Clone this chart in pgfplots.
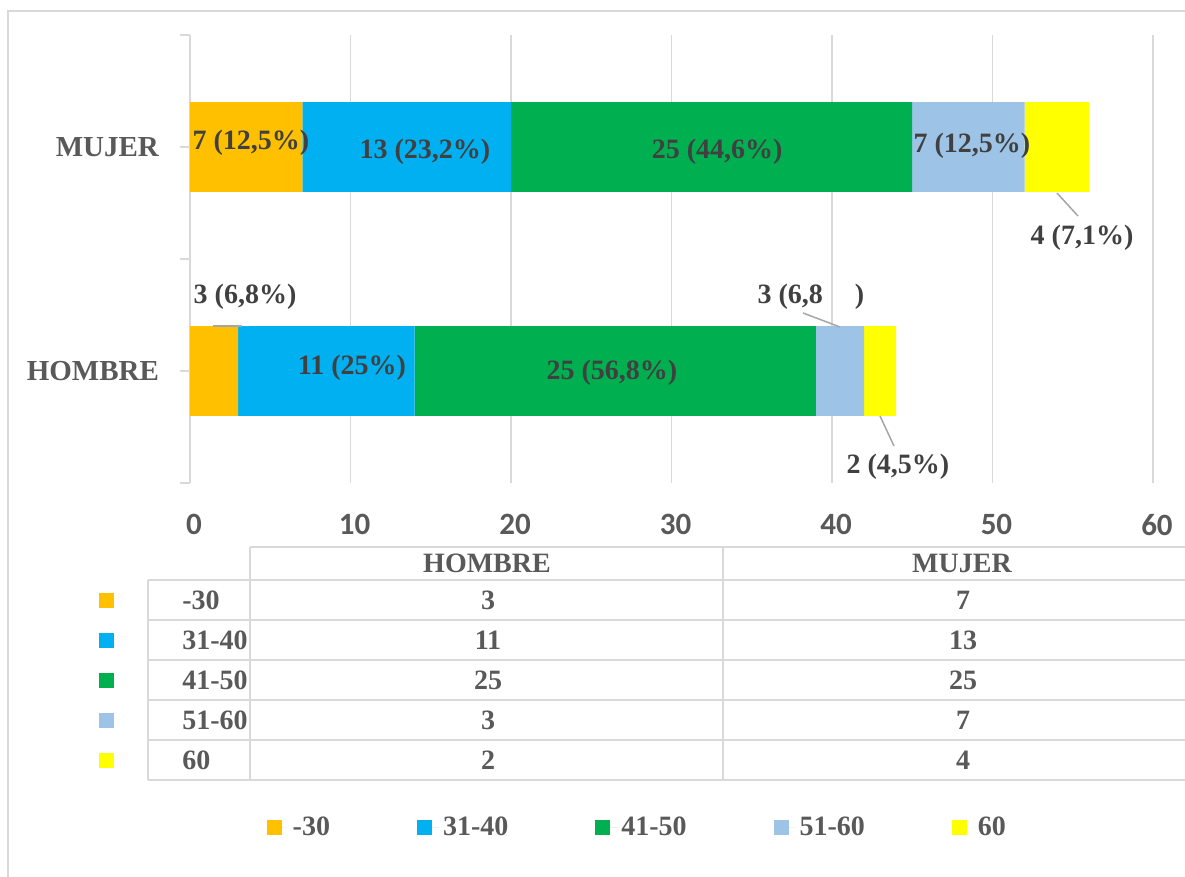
\documentclass[border=0pt]{standalone}
\usepackage{fontspec}
\setmainfont{Liberation Serif}
\newfontfamily\carlito{Carlito}
\usepackage{pgfplots}
\usepackage{pgfplotstable}
\pgfplotsset{compat=1.18}
\definecolor{c30}{HTML}{FFC000}
\definecolor{c40}{HTML}{00B0F0}
\definecolor{c50}{HTML}{00B050}
\definecolor{c60}{HTML}{9DC3E6}
\definecolor{c61}{HTML}{FFFF00}
\definecolor{gridc}{HTML}{D9D9D9}
\definecolor{txt}{HTML}{595959}
\definecolor{labc}{HTML}{404040}
\definecolor{leadc}{HTML}{A6A6A6}

% bar values: y=0 HOMBRE, y=1 MUJER
\pgfplotstableread{
x y
3 0
7 1
}\tA
\pgfplotstableread{
x y
11 0
13 1
}\tB
\pgfplotstableread{
x y
25 0
25 1
}\tC
\pgfplotstableread{
x y
3 0
7 1
}\tD
\pgfplotstableread{
x y
2 0
4 1
}\tE
% data labels at their placed positions
\pgfplotstableread[col sep=semicolon]{
x;y;lab
3.80;1.018;7 (12,5\%)
14.64;0.978;13 (23,2\%)
32.84;0.978;25 (44,6\%)
48.72;1.004;7 (12,5\%)
55.58;0.594;4 (7,1\%)
3.43;0.330;3 (6,8\%)
10.09;0.013;11 (25\%)
26.29;-0.009;25 (56,8\%)
38.69;0.330;3 (6,8\hbox to 16pt{})
44.11;-0.429;2 (4,5\%)
}\tL

\newcommand\tabfont{\bfseries\fontsize{14}{14}\selectfont}
\pgfplotsset{
  lbl/.style={draw=none, fill=#1,
    legend image code/.code={\fill[##1] (0pt,-3.75pt) rectangle (7.5pt,3.75pt);
      \path (0pt,0pt) -- (11pt,0pt);}
  },
  frame/.style={at={(95pt,-241.5pt)}, anchor=south west,
    scale only axis, width=481.5pt, height=224pt,
    xmin=0, xmax=60, ymin=-0.5, ymax=1.5}
}

\begin{document}
\begin{tikzpicture}
\begin{axis}[
  frame,
  xbar stacked, bar width=0.4,
  xtick={0,10,...,60},
  xmajorgrids, major grid style={draw=gridc, line width=0.75pt},
  ytick={-0.5,0.5,1.5}, yticklabels={},
  axis line style={draw=none},
  tick align=outside, major tick length=5pt,
  xtick style={draw=none}, ytick style={draw=gridc, line width=0.75pt},
  ytick pos=left, xtick pos=bottom,
  extra y ticks={0,1}, extra y tick labels={HOMBRE,MUJER},
  extra y tick style={tick style={draw=none},
    tick label style={font=\bfseries\fontsize{14.5}{14.5}\selectfont, text=txt, xshift=-7pt}},
  xticklabel style={font=\carlito\bfseries\fontsize{15.5}{15.5}\selectfont, text=txt, yshift=-7pt, xshift=2pt},
  /pgf/number format/assume math mode=true,
  legend style={at={(0.073,-0.770)}, anchor=west, draw=none, fill=none,
    font=\tabfont, text=txt, legend columns=5,
    /tikz/every even column/.append style={column sep=41.5pt}},
  legend cell align=left,
]
\addplot[lbl=c30] table[x=x,y=y]{\tA};
\addlegendentry{-30}
\addplot[lbl=c40] table[x=x,y=y]{\tB};
\addlegendentry{31-40}
\addplot[lbl=c50] table[x=x,y=y]{\tC};
\addlegendentry{41-50}
\addplot[lbl=c60] table[x=x,y=y]{\tD};
\addlegendentry{51-60}
\addplot[lbl=c61] table[x=x,y=y]{\tE};
\addlegendentry{60}
\end{axis}

\begin{axis}[frame, hide axis]
\addplot[draw=none, mark=none, point meta=explicit symbolic,
  nodes near coords={\pgfplotspointmeta},
  nodes near coords align={center},
  every node near coord/.append style={anchor=center,
    font=\bfseries\fontsize{14}{14}\selectfont, text=labc, inner sep=0pt}]
  table[x=x,y=y,meta=lab]{\tL};
\end{axis}

\begin{scope}[x=0.5pt,y=-0.5pt]
\draw[gridc, line width=0.75pt] (1190,11) -- (8,11) -- (8,890);
\draw[leadc, line width=0.75pt] (213,326) -- (242,326);
\draw[leadc, line width=0.75pt] (1057,193) -- (1078,216);
\draw[leadc, line width=0.75pt] (803,313) -- (840,327);
\draw[leadc, line width=0.75pt] (880,416) -- (894,446);
\draw[gridc, line width=0.75pt] (250,547) -- (1190,547);
\draw[gridc, line width=0.75pt] (148,580) -- (1190,580);
\draw[gridc, line width=0.75pt] (148,620) -- (1190,620);
\draw[gridc, line width=0.75pt] (148,660) -- (1190,660);
\draw[gridc, line width=0.75pt] (148,700) -- (1190,700);
\draw[gridc, line width=0.75pt] (148,740) -- (1190,740);
\draw[gridc, line width=0.75pt] (148,780) -- (1190,780);
\draw[gridc, line width=0.75pt] (148,580) -- (148,780);
\draw[gridc, line width=0.75pt] (250,547) -- (250,780);
\draw[gridc, line width=0.75pt] (723,547) -- (723,780);
\node[font=\tabfont, text=txt] at (487,563) {HOMBRE};
\node[font=\tabfont, text=txt] at (962,563) {MUJER};
\fill[c30] (99,592.5) rectangle (114,607.5);
\fill[c40] (99,632.5) rectangle (114,647.5);
\fill[c50] (99,672.5) rectangle (114,687.5);
\fill[c60] (99,712.5) rectangle (114,727.5);
\fill[c61] (99,752.5) rectangle (114,767.5);
\node[font=\tabfont, text=txt, anchor=west, inner sep=0pt] at (182,600) {-30};
\node[font=\tabfont, text=txt, anchor=west, inner sep=0pt] at (182,640) {31-40};
\node[font=\tabfont, text=txt, anchor=west, inner sep=0pt] at (182,680) {41-50};
\node[font=\tabfont, text=txt, anchor=west, inner sep=0pt] at (182,720) {51-60};
\node[font=\tabfont, text=txt, anchor=west, inner sep=0pt] at (182,760) {60};
\node[font=\tabfont, text=txt] at (488,600) {3};
\node[font=\tabfont, text=txt] at (488,640) {11};
\node[font=\tabfont, text=txt] at (488,680) {25};
\node[font=\tabfont, text=txt] at (488,720) {3};
\node[font=\tabfont, text=txt] at (488,760) {2};
\node[font=\tabfont, text=txt] at (963,600) {7};
\node[font=\tabfont, text=txt] at (963,640) {13};
\node[font=\tabfont, text=txt] at (963,680) {25};
\node[font=\tabfont, text=txt] at (963,720) {7};
\node[font=\tabfont, text=txt] at (963,760) {4};
\pgfresetboundingbox
\useasboundingbox (0,0) rectangle (1185,877);
\end{scope}
\end{tikzpicture}
\end{document}
